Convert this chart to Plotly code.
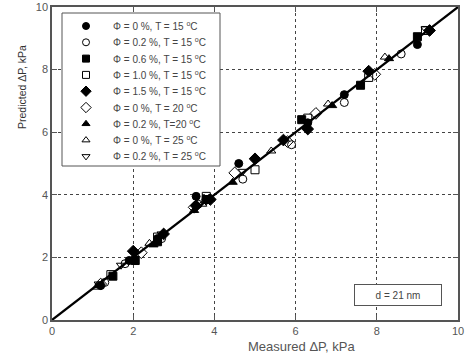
import plotly.graph_objects as go

# Data (Measured dP, Predicted dP), kPa
s1_x = [1.2, 1.9, 2.6, 3.55, 4.6, 6.3, 7.2, 9.0]
s1_y = [1.1, 1.9, 2.6, 3.95, 5.0, 6.3, 7.2, 8.8]
s2_x = [1.3, 1.8, 2.7, 3.6, 4.7, 5.9, 7.2, 8.6]
s2_y = [1.2, 1.8, 2.6, 3.7, 4.5, 5.6, 6.95, 8.5]
s3_x = [1.5, 2.05, 2.6, 3.8, 6.15, 7.6, 9.0]
s3_y = [1.4, 1.9, 2.5, 3.85, 6.4, 7.5, 9.05]
s4_x = [1.45, 2.6, 3.8, 5.0, 6.3, 7.8, 9.2]
s4_y = [1.45, 2.65, 3.95, 4.8, 6.45, 7.75, 9.25]
s5_x = [2.0, 2.75, 3.55, 3.9, 5.0, 5.7, 6.3, 7.8, 9.3]
s5_y = [2.2, 2.75, 3.65, 3.85, 5.15, 5.75, 6.1, 7.95, 9.25]
s6_x = [1.2, 2.2, 3.5, 4.5, 5.8, 6.5, 7.95]
s6_y = [1.15, 2.15, 3.6, 4.7, 5.7, 6.6, 7.85]
s7_x = [1.15, 2.5, 3.5, 4.45, 6.9, 8.3]
s7_y = [1.1, 2.4, 3.5, 4.4, 6.85, 8.35]
s8_x = [1.1, 2.4, 3.7, 5.4, 6.8, 8.2]
s8_y = [1.05, 2.45, 3.7, 5.4, 6.9, 8.4]
s9_x = [1.15, 1.7, 2.7, 3.8, 4.7, 9.2]
s9_y = [1.15, 1.75, 2.75, 3.8, 4.75, 9.3]

names = [
    "Φ = 0 %, T = 15 <sup>o</sup>C",
    "Φ = 0.2 %, T = 15 <sup>o</sup>C",
    "Φ = 0.6 %, T = 15 <sup>o</sup>C",
    "Φ = 1.0 %, T = 15 <sup>o</sup>C",
    "Φ = 1.5 %, T = 15 <sup>o</sup>C",
    "Φ = 0 %, T = 20 <sup>o</sup>C",
    "Φ = 0.2 %, T=20 <sup>o</sup>C",
    "Φ = 0 %, T = 25 <sup>o</sup>C",
    "Φ = 0.2 %, T = 25 <sup>o</sup>C",
]
line_x = [0, 10]
line_y = [0, 10]
tick_vals = [0, 2, 4, 6, 8, 10]

series = [(s1_x, s1_y), (s2_x, s2_y), (s3_x, s3_y), (s4_x, s4_y), (s5_x, s5_y),
          (s6_x, s6_y), (s7_x, s7_y), (s8_x, s8_y), (s9_x, s9_y)]
symbols = ["circle", "circle-open", "square", "square-open", "diamond",
           "diamond-open", "triangle-up", "triangle-up-open", "triangle-down-open"]

FONT = "Liberation Sans, Arial"

def msize(sym):
    return 9 if "diamond" in sym else 8

fig = go.Figure()
fig.add_trace(go.Scatter(x=line_x, y=line_y, mode="lines",
                         line=dict(color="black", width=2.2), showlegend=False))
for (xs, ys), nm, sym in zip(series, names, symbols):
    fig.add_trace(go.Scatter(
        x=xs, y=ys, mode="markers", name=nm, showlegend=False,
        marker=dict(symbol=sym, size=msize(sym),
                    color="black", line=dict(color="black", width=1)),
    ))

# ---- hand-made legend on an overlay axis measured in pixels ----
L_LEFT, L_RIGHT, L_TOP, L_BOTTOM = 62, 220, 13, 166
ROW0, ROW_STEP, SYM_X, TXT_X = 26, 16.3, 86, 111
fig.add_trace(go.Scatter(
    x=[L_LEFT, L_RIGHT, L_RIGHT, L_LEFT, L_LEFT],
    y=[L_TOP, L_TOP, L_BOTTOM, L_BOTTOM, L_TOP],
    mode="lines", fill="toself", fillcolor="white",
    line=dict(color="#555", width=1), xaxis="x2", yaxis="y2",
    showlegend=False, hoverinfo="skip"))
for i, (nm, sym) in enumerate(zip(names, symbols)):
    yy = ROW0 + i * ROW_STEP
    fig.add_trace(go.Scatter(
        x=[SYM_X], y=[yy], mode="markers", xaxis="x2", yaxis="y2",
        showlegend=False, hoverinfo="skip",
        marker=dict(symbol=sym, size=msize(sym) - 1, color="black",
                    line=dict(color="black", width=1))))
    fig.add_annotation(x=TXT_X, y=yy, xref="x2", yref="y2", text=nm,
                       showarrow=False, xanchor="left", yanchor="middle",
                       font=dict(family=FONT, size=10, color="#444"))

axis_common = dict(
    range=[0, 10], tickvals=tick_vals, showgrid=True, gridcolor="#444",
    griddash="dot", gridwidth=1, zeroline=False, showline=True,
    linecolor="#555", linewidth=1.5, mirror="ticks", ticks="inside",
    ticklen=5, tickcolor="#555", automargin=False,
    tickfont=dict(family=FONT, size=11, color="#555"),
)
fig.update_xaxes(**axis_common)
fig.update_yaxes(**axis_common)
fig.update_layout(
    xaxis2=dict(overlaying="x", range=[52, 458], visible=False, showgrid=False),
    yaxis2=dict(overlaying="y", range=[320, 7], visible=False, showgrid=False),
)

fig.add_annotation(x=8.52, y=0.81, xref="x", yref="y", text="d = 21 nm",
                   showarrow=False, bgcolor="white", bordercolor="#555",
                   borderwidth=1, width=84, height=18,
                   font=dict(family=FONT, size=10, color="#444"))
fig.add_annotation(x=(301 - 52) / 406, y=(320 - 347) / 313, xref="paper", yref="paper",
                   text="Measured ΔP, kPa", showarrow=False,
                   xanchor="center", yanchor="middle",
                   font=dict(family=FONT, size=13, color="#555"))
fig.add_annotation(x=(22 - 52) / 406, y=(320 - 87) / 313, xref="paper", yref="paper",
                   text="Predicted ΔP, kPa", textangle=-90, showarrow=False,
                   xanchor="center", yanchor="middle",
                   font=dict(family=FONT, size=10.5, color="#333"))

fig.update_layout(
    width=472, height=357,
    margin=dict(l=52, r=14, t=7, b=37),
    plot_bgcolor="white", paper_bgcolor="white",
    showlegend=False,
)

fig.write_html("out.html", config={"displayModeBar": False},
               post_script="document.body.style.margin='0';")
